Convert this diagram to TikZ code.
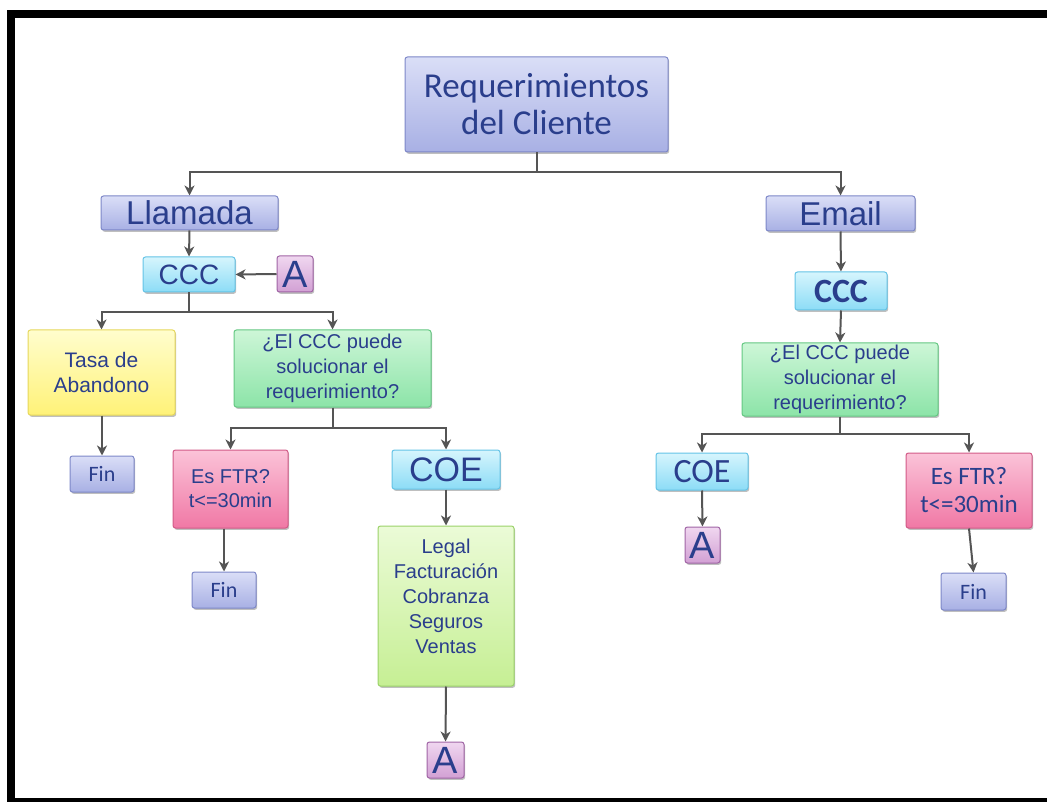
\documentclass[tikz,border=0pt]{standalone}
\usepackage{fontspec}
\setmainfont{Liberation Sans}
\newfontfamily\calfont{Carlito}
\usetikzlibrary{arrows.meta,shadows}

\definecolor{txt}{RGB}{42,62,140}
\definecolor{lavT}{RGB}{218,222,247}
\definecolor{lavB}{RGB}{168,176,228}
\definecolor{lavD}{RGB}{125,135,200}
\definecolor{cyT}{RGB}{214,245,253}
\definecolor{cyB}{RGB}{140,220,246}
\definecolor{cyD}{RGB}{100,195,230}
\definecolor{puT}{RGB}{240,215,240}
\definecolor{puB}{RGB}{210,160,212}
\definecolor{puD}{RGB}{160,100,165}
\definecolor{yeT}{RGB}{255,253,205}
\definecolor{yeB}{RGB}{255,242,120}
\definecolor{yeD}{RGB}{230,215,90}
\definecolor{grT}{RGB}{205,246,215}
\definecolor{grB}{RGB}{140,228,168}
\definecolor{grD}{RGB}{100,200,130}
\definecolor{piT}{RGB}{251,195,216}
\definecolor{piB}{RGB}{240,120,165}
\definecolor{piD}{RGB}{210,90,135}
\definecolor{lgT}{RGB}{235,251,215}
\definecolor{lgB}{RGB}{198,239,148}
\definecolor{lgD}{RGB}{155,210,105}
\definecolor{linec}{RGB}{85,85,85}

\tikzset{
  base/.style={rounded corners=2.5pt, line width=1pt, inner sep=0pt, align=center,
    text=txt, drop shadow={shadow xshift=1.2pt, shadow yshift=-1.8pt, opacity=0.25, fill=black}},
  lav/.style={base, draw=lavD, top color=lavT, bottom color=lavB},
  cya/.style={base, draw=cyD, top color=cyT, bottom color=cyB},
  pur/.style={base, draw=puD, top color=puT, bottom color=puB},
  yel/.style={base, draw=yeD, top color=yeT, bottom color=yeB},
  grn/.style={base, draw=grD, top color=grT, bottom color=grB},
  pnk/.style={base, draw=piD, top color=piT, bottom color=piB},
  lgr/.style={base, draw=lgD, top color=lgT, bottom color=lgB},
  sz/.style 2 args={minimum width=#1pt, minimum height=#2pt},
  arr/.style={draw=linec, line width=2pt, -{Stealth[length=10pt,width=10pt,inset=3pt]}},
  small/.style={font=\fontsize{20}{25}\selectfont},
}

\begin{document}
\begin{tikzpicture}[x=1pt,y=-1pt]
\useasboundingbox (0,0) rectangle (1047,802);

% frame
\fill[black] (7,10) rectangle (1047,18);
\fill[black] (7,10) rectangle (15,802);
\fill[black] (7,798) rectangle (1047,802);

% top level
\node[lav, sz={263}{95}, font=\calfont\fontsize{35}{37}\selectfont] (req) at (536.5,104.5) {Requerimientos\\del Cliente};
\node[lav, sz={177}{34}, font=\fontsize{33}{36}\selectfont] (llam) at (189.5,213) {Llamada};
\node[lav, sz={149}{35}, font=\fontsize{33}{36}\selectfont] (email) at (840.5,213.5) {Email};

% phone branch
\node[cya, sz={92}{35}, font=\fontsize{28}{30}\selectfont] (cccL) at (189,274.5) {CCC};
\node[pur, sz={36}{36}, font=\fontsize{38}{38}\selectfont] (aL) at (295,274) {A};
\node[yel, sz={147}{85}, font=\fontsize{21}{25}\selectfont] (tasa) at (101.5,372.5) {Tasa de\\Abandono};
\node[grn, sz={197}{77}, small] (q1) at (332.5,368.5) {¿El CCC puede\\solucionar el\\requerimiento?};
\node[lav, sz={64}{36}, font=\calfont\fontsize{22}{24}\selectfont] (fin1) at (102,474) {Fin};
\node[pnk, sz={115}{78}, font=\fontsize{20}{24}\selectfont] (ftr1) at (230.5,489) {Es FTR?\\t<=30min};
\node[cya, sz={108}{39}, font=\fontsize{34}{36}\selectfont] (coe1) at (446,469.5) {COE};
\node[lav, sz={64}{36}, font=\calfont\fontsize{22}{24}\selectfont] (fin2) at (224,590) {Fin};
\node[lgr, sz={136}{160}, small] (legal) at (446,606) {Legal\\Facturación\\Cobranza\\Seguros\\Ventas\\[-5pt]};
\node[pur, sz={37}{36}, font=\fontsize{38}{38}\selectfont] (a2) at (445.5,760) {A};

% email branch
\node[cya, sz={92}{38}, font=\calfont\bfseries\fontsize{34}{36}\selectfont] (cccR) at (841,291) {CCC};
\node[grn, sz={196}{73}, small] (q2) at (840,379.5) {¿El CCC puede\\solucionar el\\requerimiento?};
\node[cya, sz={92}{37}, font=\calfont\fontsize{34}{36}\selectfont] (coe2) at (702,471.5) {COE};
\node[pur, sz={35}{36}, font=\fontsize{38}{38}\selectfont] (a3) at (702.5,545) {A};
\node[pnk, sz={126}{75}, font=\calfont\fontsize{25}{28}\selectfont] (ftr2) at (969,490.5) {Es FTR?\\t<=30min};
\node[lav, sz={65}{37}, font=\calfont\fontsize{22}{24}\selectfont] (fin3) at (973.5,591.5) {Fin};

% junction points of the tree connectors
\coordinate (j0) at (536.5,172.5);
\coordinate (j1) at (189,312);
\coordinate (j2) at (332.5,428);
\coordinate (j3) at (840,433.5);

% connectors
\draw[arr] (req.south) -- (j0) -| (llam.north);
\draw[arr] (req.south) -- (j0) -| (email.north);
\draw[arr] (llam.south) -- (cccL.north);
\draw[arr] (aL.west) -- (cccL.east);
\draw[arr] (cccL.south) -- (j1) -| (tasa.north);
\draw[arr] (cccL.south) -- (j1) -| (q1.north);
\draw[arr] (tasa.south -| fin1.north) -- (fin1.north);
\draw[arr] (q1.south) -- (j2) -| (ftr1.north);
\draw[arr] (q1.south) -- (j2) -| (coe1.north);
\draw[arr] (ftr1.south -| fin2.north) -- (fin2.north);
\draw[arr] (coe1.south) -- (legal.north);
\draw[arr] (legal.south) -- (a2.north);

\draw[arr] (email.south) -- (cccR.north);
\draw[arr] (cccR.south) -- (q2.north);
\draw[arr] (q2.south) -- (j3) -| (coe2.north);
\draw[arr] (q2.south) -- (j3) -| (ftr2.north);
\draw[arr] (coe2.south) -- (a3.north);
\draw[arr] (ftr2.south) -- (fin3.north);
\end{tikzpicture}
\end{document}
